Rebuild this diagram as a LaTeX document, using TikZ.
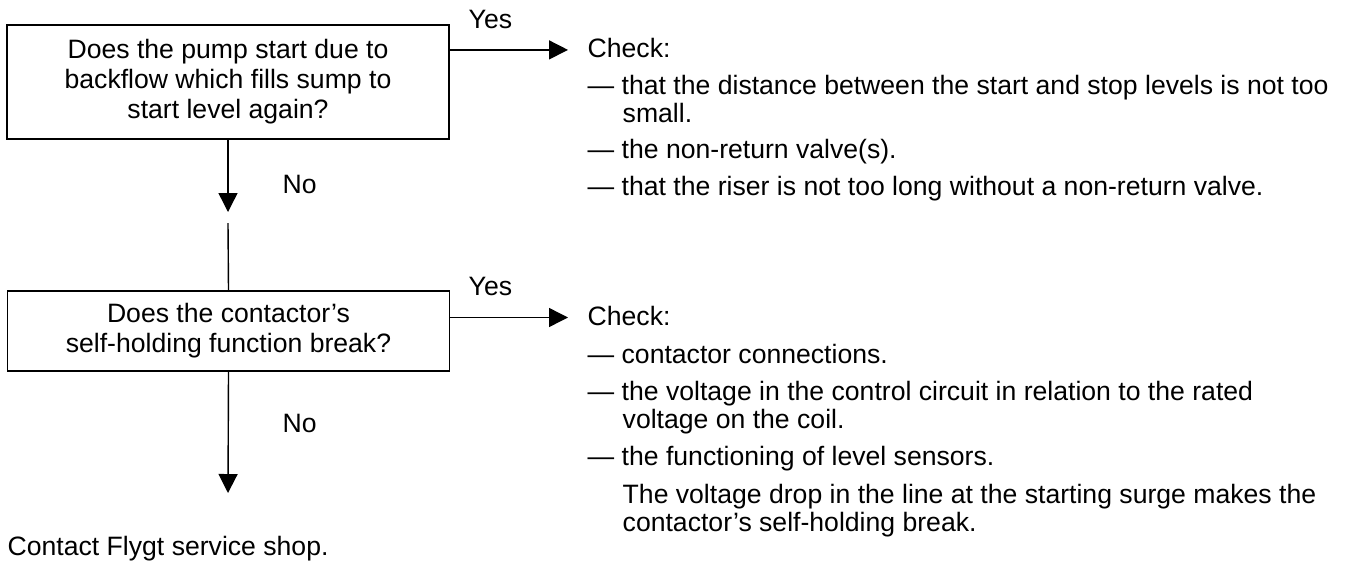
\documentclass[tikz,border=0pt]{standalone}
\usepackage{fontspec}
\setmainfont{Liberation Sans}
\usetikzlibrary{arrows.meta}
\newcommand{\ind}{\hspace*{17.5pt}}

\begin{document}
\begin{tikzpicture}[x=0.5pt,y=-0.5pt,line width=0.7pt,
    every node/.style={font=\fontsize{13.3}{14}\selectfont,inner sep=0pt},
    qbox/.style={draw,align=center,minimum width=221pt,font=\fontsize{13.3}{15}\selectfont},
    flow/.style={-{Triangle[length=9.5pt,width=9.5pt]}},
    lbl/.style={anchor=base west},
    note/.style={anchor=base west,align=left},
    chk/.style={anchor=base west,inner xsep=9.5pt}]
    \useasboundingbox (0,0) rectangle (1348,564);
    \node[qbox,minimum height=57pt] (q1) at (228,82) {Does the pump start due to\\backflow which fills sump to\\start level again?};
    \node[qbox,minimum height=40pt] (q2) at (228.5,331) {Does the contactor's\\self-holding function break?};
    \coordinate (tip1) at (228,212);
    \coordinate (gap1) at (228,223);
    \coordinate (tip2) at (228,493);
    \draw[flow] (q1.south) -- (tip1);
    \draw (gap1) -- (q2.north);
    \draw[flow] (q2.south) -- (tip2);
    \foreach \y/\n in {28/yes1,295/yes2}{
        \node[lbl] (\n) at (468,\y) {Yes};
    }
    \foreach \y/\n in {193/no1,432/no2}{
        \node[lbl] (\n) at (282,\y) {No};
    }
    \node[chk] (c1) at (568,57) {Check:};
    \node[chk] (c2) at (568,325) {Check:};
    \draw[flow] ([yshift=-1.2pt]q1.east |- c1.west) -- ([yshift=-1.2pt]c1.west);
    \draw[flow] ([yshift=-1pt]q2.east |- c2.west) -- ([yshift=-1pt]c2.west);
    \node[note] (a1) at (587,122) {--- that the distance between the start and stop levels is not too\\\ind small.};
    \node[note] (a2) at (587,158) {--- the non-return valve(s).};
    \node[note] (a3) at (587,195) {--- that the riser is not too long without a non-return valve.};
    \node[note] (b1) at (587,363) {--- contactor connections.};
    \node[note] (b2) at (587,428) {--- the voltage in the control circuit in relation to the rated\\\ind voltage on the coil.};
    \node[note] (b3) at (587,465) {--- the functioning of level sensors.};
    \node[note] (b4) at (622,531) {The voltage drop in the line at the starting surge makes the\\contactor's self-holding break.};
    \node[lbl] (end) at (7,555) {Contact Flygt service shop.};
\end{tikzpicture}
\end{document}
